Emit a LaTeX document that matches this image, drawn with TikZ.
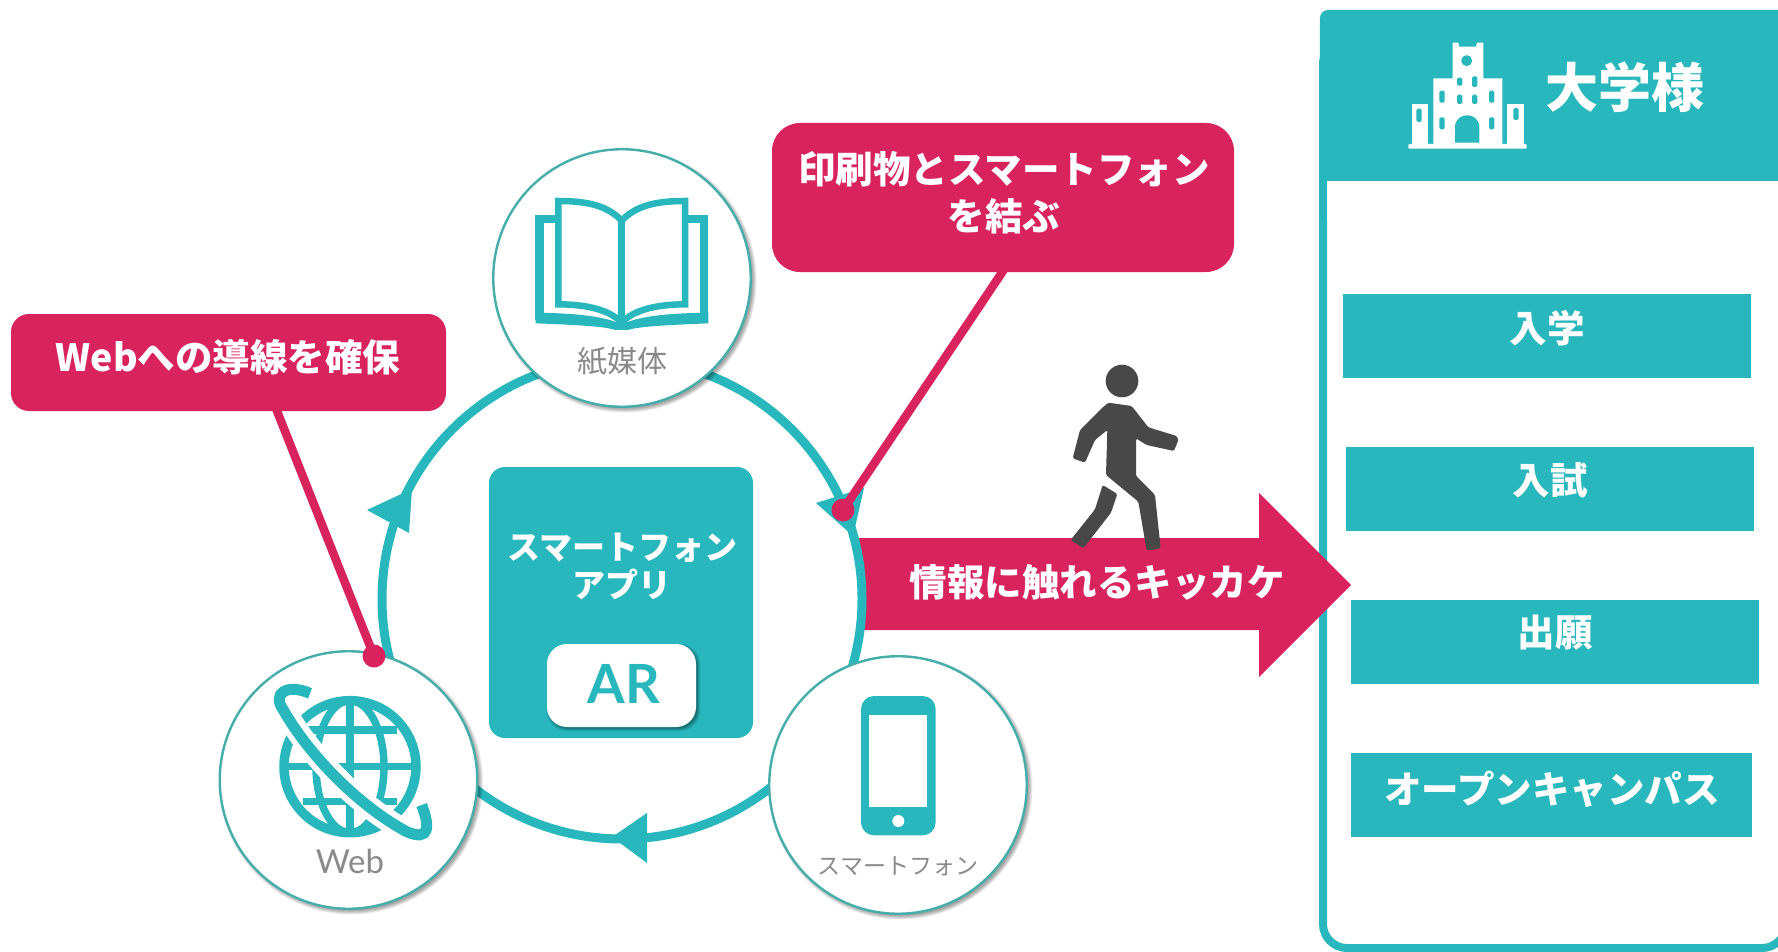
\documentclass[tikz,border=0pt]{standalone}
\usepackage{fontspec}
\setmainfont{Lato}
\newfontfamily\cjk{Noto Sans CJK JP}
\usetikzlibrary{calc}
\definecolor{teal1}{HTML}{27B7BD}
\definecolor{mag}{HTML}{D8235D}
\definecolor{rim}{HTML}{45ADAA}
\definecolor{walk}{HTML}{484848}
\definecolor{lab}{HTML}{8A8A8A}
\tikzset{
  icon/.style={x=0.33333pt,y=-0.33333pt},
  disc/.style={circle,draw=rim,line width=2.4pt,fill=white,minimum size=257.5pt,inner sep=0pt},
  infobox/.style={rectangle,fill=teal1,minimum width=408pt,minimum height=84pt,inner sep=0pt},
  infotext/.style={text=white,inner sep=0pt,font=\cjk\bfseries\fontsize{37.5}{44}\selectfont},
  callout/.style={rectangle,rounded corners=#1,fill=mag,inner sep=0pt},
  calltext/.style={text=white,inner sep=0pt,align=center,font=\cjk\bfseries\fontsize{37.5}{47}\selectfont},
  callline/.style={draw=mag,line width=8.5pt},
  dotnode/.style={circle,fill=mag,minimum size=23pt,inner sep=0pt},
  ringhead/.style={fill=teal1},
  iconlabel/.style={text=lab,inner sep=0pt},
}
\newcommand{\softdisc}[2]{%
  \foreach \q in {0,1,2,3,4,5}{
    \fill[black,opacity=0.07] ($(#1)+(2.5,2.5)$) circle[radius=#2pt+\q*0.8pt-1pt];
  }%
}
\begin{document}
\begin{tikzpicture}[x=1pt,y=-1pt]
\useasboundingbox (0,0) rectangle (1778,952);
% right panel
\draw[teal1,line width=8pt,rounded corners=24pt] (1323,60) -- (1323,948) -- (1786,948) -- (1786,60);
\fill[teal1,rounded corners=8pt] (1319,190) -- (1320,10) -- (1800,10) -- (1800,190) -- cycle;
\fill[white] (1327,181) rectangle (1778,220);
\fill[teal1] (1319,175) rectangle (1327,225);
\node[text=white,inner sep=0pt,font=\cjk\bfseries\fontsize{53}{56}\selectfont] (headtext) at (1625,87) {大学様};
% building icon
\begin{scope}[shift={(1300,0)},icon]
\fill[white] (458,128) -- (475,128) -- (478,140) -- (528,140) -- (531,128) -- (550,128) -- (550,235) -- (607,235) -- (607,432) -- (400,432) -- (400,235) -- (458,235) -- cycle;
\fill[white] (335,312) rectangle (383,432);
\fill[white] (620,312) rectangle (672,432);
\fill[white,rounded corners=1pt] (325,432) rectangle (680,446);
\fill[teal1] (500,182) circle[radius=5.5pt];
\fill[teal1] (465,428) -- (465,378) .. controls (470,335) and (533,335) .. (538,378) -- (538,428) -- cycle;
\foreach \wx/\wy/\wh in {479/245/12,524/245/16,426/290/18,479/298/14,524/298/14,575/290/18,426/370/18,575/370/18,357/346/20,648/342/18}{
  \fill[teal1,rounded corners=1.5pt] (\wx-8,\wy-\wh) rectangle (\wx+8,\wy+\wh);
}
\end{scope}
% info boxes
\node[infobox] (b1) at (1547,336) {};
\node[infotext] (b1t) at (1547,328) {入学};
\node[infobox] (b2) at (1550,489) {};
\node[infotext] (b2t) at (1550,480) {入試};
\node[infobox] (b3) at (1555,642) {};
\node[infotext] (b3t) at (1555,633) {出願};
\node[infobox,minimum width=401pt] (b4) at (1551.5,795) {};
\node[infotext] (b4t) at (1552,789) {オープンキャンパス};
% arrow band
\fill[mag] (859,538) -- (1259,538) -- (1259,493) -- (1351,585) -- (1259,677) -- (1259,630) -- (859,630) -- cycle;
\node[text=white,inner sep=0pt,font=\cjk\bfseries\fontsize{37.5}{44}\selectfont] (bandtext) at (1097,582) {情報に触れるキッカケ};
% ring
\coordinate (ringc) at (622,599);
\draw[teal1,line width=9pt] (ringc) circle[radius=240pt];
\fill[ringhead] (816,503) -- (864,488) -- (853,536) -- cycle;
\fill[ringhead] (367,510) -- (412,489) -- (409,533) -- cycle;
\fill[ringhead] (612,837) -- (647,813) -- (647,863) -- cycle;
% walker
\begin{scope}[shift={(1030,350)},icon]
\fill[walk] (276,93) circle[radius=16.3pt];
\fill[walk,rounded corners=1.5pt] (235,158) -- (305,168) -- (355,232) -- (440,258) -- (445,270) -- (432,303) -- (350,285) -- (318,265) -- (318,378) -- (375,435) -- (392,595) -- (350,602) -- (325,455) -- (228,375) -- (232,240) -- (195,270) -- (165,338) -- (128,325) -- (150,240) -- (215,175) -- cycle;
\fill[walk,rounded corners=1.5pt] (218,405) -- (262,432) -- (243,488) -- (160,595) -- (122,570) -- (195,478) -- cycle;
\end{scope}
% centre box
\node[rectangle,rounded corners=16pt,fill=teal1,minimum width=264pt,minimum height=271pt,inner sep=0pt] (appbox) at (621,602.5) {};
\node[text=white,inner sep=0pt,align=center,font=\cjk\bfseries\fontsize{33}{38}\selectfont] (apptext) at (622,566) {スマートフォン\\アプリ};
\foreach \q in {0,1,2,3,4}{
  \fill[black,opacity=0.09,rounded corners=20pt] (547+\q*0.7,644+\q*0.7) rectangle (700-\q*0.7,731-\q*0.7);
}
\node[rectangle,rounded corners=20pt,fill=white,minimum width=149pt,minimum height=83pt,inner sep=0pt] (arbox) at (621.5,685.5) {};
\node[text=teal1,inner sep=0pt,font=\bfseries\fontsize{54}{55}\selectfont] (artext) at (624,684) {AR};
% discs
\coordinate (pc) at (622,278);
\coordinate (wc) at (348.5,780);
\coordinate (sc) at (898,785);
\softdisc{pc}{129}
\softdisc{wc}{129}
\softdisc{sc}{129}
\node[disc] (paper) at (pc) {};
\node[disc] (web) at (wc) {};
\node[disc] (phone) at (sc) {};
% book icon
\begin{scope}[shift={(480,130)},icon]
\draw[teal1,line width=8.5pt] (235,267) -- (179,267) -- (179,570);
\draw[teal1,line width=8.5pt] (615,267) -- (672,267) -- (672,570);
\fill[teal1] (167,548) -- (167,580) .. controls (300,585) and (380,590) .. (405,600) -- (445,600) .. controls (470,590) and (560,585) .. (685,580) -- (685,548) .. controls (560,550) and (480,558) .. (425,583) .. controls (370,558) and (290,550) .. (167,548) -- cycle;
\draw[teal1,line width=6.5pt,line join=miter] (425,272) .. controls (385,230) and (330,213) .. (235,213) -- (235,523) .. controls (320,523) and (390,540) .. (425,578);
\draw[teal1,line width=6.5pt,line join=miter] (425,272) .. controls (465,230) and (520,213) .. (615,213) -- (615,523) .. controls (530,523) and (460,540) .. (425,578);
\draw[teal1,line width=6.5pt] (425,272) -- (425,590);
\end{scope}
\node[iconlabel,font=\cjk\fontsize{30}{32}\selectfont] (papertext) at (622,361) {紙媒体};
% globe icon
\begin{scope}[shift={(200,630)},icon]
\draw[teal1,line width=9.5pt] (450,410) circle[radius=66pt];
\draw[teal1,line width=7.5pt] (450,410) ellipse[x radius=34pt,y radius=66pt];
\draw[teal1,line width=7.5pt] (450,210) -- (450,610);
\draw[teal1,line width=7.5pt] (245,410) -- (655,410);
\draw[teal1,line width=7.5pt] (310,300) -- (590,300);
\draw[teal1,line width=7.5pt] (310,515) -- (590,515);
\draw[white,line width=23pt] (250,235) .. controls (330,380) and (480,530) .. (620,605);
\draw[white,line width=11pt] (300,190) -- (255,180);
\draw[teal1,line width=11pt] (330,190) .. controls (260,160) and (215,190) .. (250,240) .. controls (330,380) and (480,530) .. (620,605) .. controls (690,635) and (690,590) .. (665,525);
\end{scope}
\node[iconlabel,font=\fontsize{33}{34}\selectfont] (webtext) at (350,861) {Web};
% phone icon
\begin{scope}[shift={(750,650)},icon]
\fill[teal1,rounded corners=13pt] (333,138) rectangle (557,556);
\fill[white] (358,195) rectangle (532,470);
\fill[white] (445,513) circle[radius=6pt];
\end{scope}
\node[iconlabel,font=\cjk\fontsize{23}{25}\selectfont] (phonetext) at (898,866) {スマートフォン};
% callouts
\coordinate (a1) at (1005,268);
\coordinate (a2) at (275,406);
\node[dotnode] (dot1) at (843,510) {};
\node[dotnode] (dot2) at (374,656) {};
\draw[callline] (a1) -- (dot1.center);
\draw[callline] (a2) -- (dot2.center);
\node[callout=28pt,minimum width=462pt,minimum height=149pt] (call1) at (1003,197.5) {};
\node[calltext] (call1t) at (1004,193) {印刷物とスマートフォン\\を結ぶ};
\node[callout=18pt,minimum width=435pt,minimum height=97pt] (call2) at (228.5,362.5) {};
\node[calltext] (call2t) at (228,357) {Webへの導線を確保};
\end{tikzpicture}
\end{document}
